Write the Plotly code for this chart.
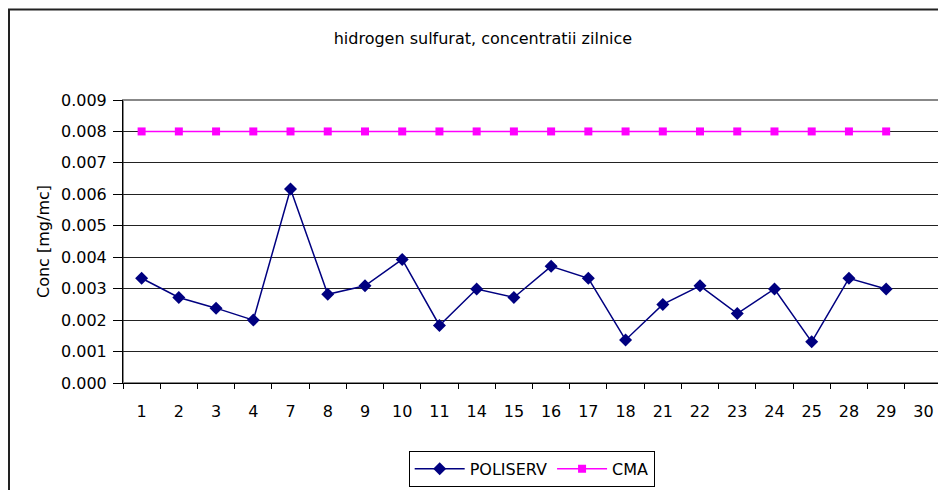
import plotly.graph_objects as go

days = ["1", "2", "3", "4", "7", "8", "9", "10", "11", "14", "15", "16", "17",
        "18", "21", "22", "23", "24", "25", "28", "29", "30"]
poliserv = [0.00333, 0.00272, 0.00238, 0.00200, 0.00617, 0.00282, 0.00309, 0.00393,
            0.00183, 0.00299, 0.00272, 0.00371, 0.00333, 0.00137, 0.00250, 0.00309,
            0.00221, 0.00299, 0.00131, 0.00333, 0.00299, None]
cma = [0.008] * 21 + [None]

font_family = "DejaVu Sans, Liberation Sans, Arial, sans-serif"

fig = go.Figure()
fig.add_trace(go.Scatter(
    x=days, y=poliserv, name="POLISERV", mode="lines+markers",
    line=dict(color="#000080", width=1.5),
    marker=dict(symbol="diamond", size=10, color="#000080"),
))
fig.add_trace(go.Scatter(
    x=days, y=cma, name="CMA", mode="lines+markers",
    line=dict(color="#FF00FF", width=1.5),
    marker=dict(symbol="square", size=8, color="#FF00FF"),
))

fig.update_layout(
    width=946, height=490,
    margin=dict(l=115, r=12, t=92, b=114),
    paper_bgcolor="white", plot_bgcolor="white",
    font=dict(family=font_family, size=16, color="black"),
    title=dict(text="hidrogen sulfurat, concentratii zilnice", x=0.502, xanchor="center",
               y=1 - 30 / 490, yanchor="middle", font=dict(size=16)),
    showlegend=True,
    legend=dict(orientation="h", x=0.499, xanchor="center", y=-0.235, yanchor="top",
                bordercolor="black", borderwidth=1, font=dict(size=16),
                itemwidth=50, tracegroupgap=0),
    xaxis=dict(type="category", categoryorder="array", categoryarray=days,
               range=[-0.5, len(days) - 0.5],
               showline=True, linecolor="black", linewidth=1,
               ticks="outside", ticklen=5, tickcolor="black", tickson="boundaries",
               ticklabelstandoff=14,
               showgrid=False, zeroline=False, fixedrange=True),
    yaxis=dict(range=[0, 0.009], dtick=0.001, tickformat=".3f",
               showline=True, linecolor="black", linewidth=1,
               ticks="outside", ticklen=9, tickcolor="black",
               ticklabelstandoff=3,
               showgrid=True, gridcolor="#222", gridwidth=1, zeroline=False,
               title=dict(text="Conc [mg/mc]", font=dict(size=16), standoff=7)),
)

# plot area border (gray top/right)
fig.add_shape(type="rect", xref="paper", yref="paper", x0=0, x1=1, y0=0, y1=1,
              line=dict(color="#888", width=2), layer="below")
# outer chart border (cut off at right and bottom)
fig.add_shape(type="rect", xref="paper", yref="paper", x0=-0.1392, x1=1.2, y0=-1.0, y1=1.320,
              line=dict(color="#222", width=2))

fig.write_html("out.html")
